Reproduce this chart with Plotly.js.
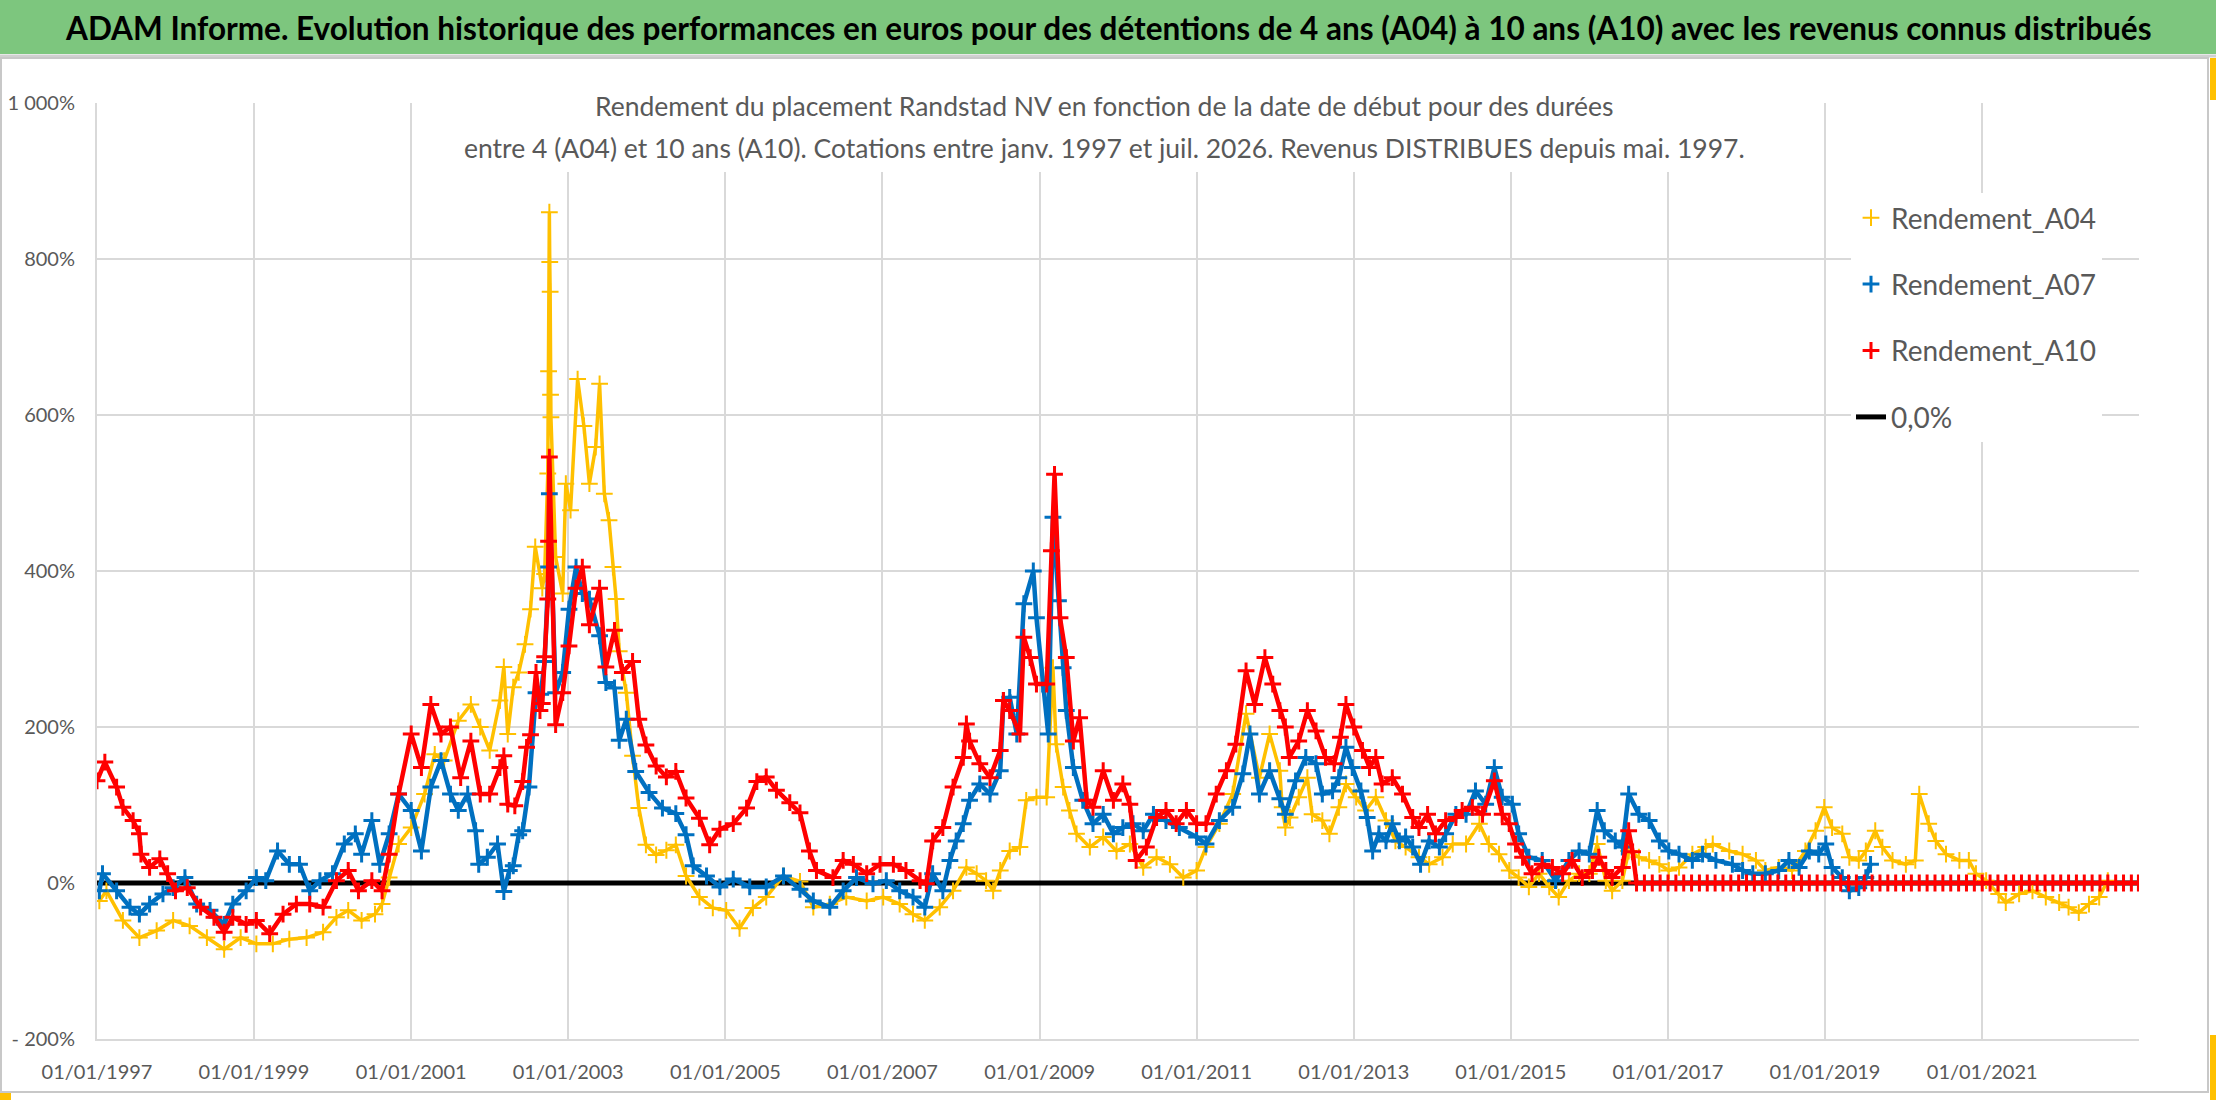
<!DOCTYPE html>
<html>
<head>
<meta charset="utf-8">
<script src="https://cdn.plot.ly/plotly-3.0.1.min.js"></script>
<style>
  html, body { margin: 0; padding: 0; background: #ffffff; }
  #chart { width: 2216px; height: 1102px; }
</style>
</head>
<body>
<div id="chart"></div>
<script>
// values, x as decimal years, y in %
var a04Years = [1997.03,1997.12,1997.33,1997.54,1997.76,1997.97,1998.18,1998.4,1998.62,1998.83,1999.03,1999.24,1999.45,1999.67,1999.88,
  2000.05,2000.2,2000.37,2000.54,2000.63,2000.72,2000.84,2001.0,2001.17,2001.3,2001.42,2001.6,2001.76,2001.88,2002.0,2002.13,2002.18,2002.23,
  2002.3,2002.37,2002.45,2002.52,2002.58,2002.67,2002.7,2002.74,2002.75,2002.76,2002.765,2002.77,2002.775,2002.78,2002.84,2002.93,2002.97,
  2003.03,2003.12,2003.2,2003.27,2003.35,2003.4,2003.46,2003.52,2003.57,2003.61,2003.65,2003.74,2003.82,2003.9,2003.99,2004.12,2004.25,
  2004.37,2004.5,2004.67,2004.84,2005.01,2005.18,2005.35,2005.52,2005.74,2005.95,2006.12,2006.33,2006.54,2006.8,2007.01,2007.22,2007.39,
  2007.54,2007.73,2007.9,2008.07,2008.2,2008.32,2008.41,2008.5,2008.62,2008.75,2008.83,2008.96,2009.09,2009.17,2009.21,2009.3,2009.38,
  2009.47,2009.64,2009.81,2009.98,2010.15,2010.32,2010.49,2010.66,2010.83,2011.0,2011.12,2011.29,2011.46,2011.63,2011.8,2011.93,2012.06,
  2012.09,2012.13,2012.19,2012.3,2012.41,2012.47,2012.6,2012.69,2012.81,2012.9,2013.03,2013.15,2013.28,2013.41,2013.53,2013.66,2013.83,
  2013.96,2014.13,2014.26,2014.43,2014.6,2014.72,2014.85,2014.98,2015.1,2015.23,2015.36,2015.49,2015.61,2015.74,2015.87,2016.0,2016.1,
  2016.21,2016.29,2016.42,2016.5,2016.63,2016.76,2016.89,2017.01,2017.14,2017.31,2017.48,2017.57,2017.78,2017.95,2018.12,2018.24,2018.41,
  2018.58,2018.75,2018.88,2018.99,2019.09,2019.22,2019.31,2019.43,2019.52,2019.64,2019.73,2019.86,2020.03,2020.15,2020.2,2020.32,2020.41,
  2020.54,2020.71,2020.83,2020.92,2021.05,2021.21,2021.3,2021.47,2021.64,2021.81,2021.98,2022.1,2022.23,2022.36,2022.49,2022.6];
var a04Values = [-23,-10,-48,-70,-61,-48,-55,-70,-85,-70,-78,-78,-72,-70,-63,
  -44,-35,-48,-40,-27,7,50,71,114,165,157,208,229,200,170,234,277,191,
  251,270,306,351,431,378,396,525,656,860,796,758,626,597,418,371,512,
  478,646,586,512,559,640,499,465,405,364,297,244,163,96,49,36,42,
  49,9,-18,-32,-35,-58,-32,-18,9,2,-31,-27,-18,-23,-18,-27,-40,
  -48,-31,-10,20,12,3,-10,16,41,46,106,110,110,276,178,123,93,
  63,46,59,41,50,20,33,24,7,16,46,76,114,217,135,191,144,
  97,71,84,110,135,88,80,63,97,127,110,93,110,80,54,46,33,
  24,33,50,50,76,50,37,16,7,-5,12,-5,-18,3,12,12,50,
  3,-10,3,41,33,29,24,16,20,37,46,50,41,37,29,16,20,
  16,41,67,97,71,63,33,29,41,67,46,29,24,29,114,76,54,
  37,29,29,12,3,-14,-25,-14,-10,-18,-25,-31,-38,-27,-18,3];

var a07Years = [1997.03,1997.07,1997.25,1997.42,1997.54,1997.67,1997.84,1997.97,1998.12,1998.27,1998.44,1998.62,1998.73,1998.9,1999.03,
  1999.15,1999.3,1999.45,1999.58,1999.71,1999.84,2000.0,2000.15,2000.29,2000.37,2000.5,2000.6,2000.72,2000.84,2001.0,2001.13,2001.25,
  2001.38,2001.5,2001.6,2001.72,2001.82,2001.86,2001.97,2002.1,2002.18,2002.25,2002.3,2002.37,2002.42,2002.5,2002.59,2002.65,2002.7,
  2002.75,2002.76,2002.84,2002.93,2003.01,2003.1,2003.18,2003.27,2003.4,2003.48,2003.59,2003.65,2003.74,2003.86,2004.03,2004.2,2004.37,
  2004.5,2004.59,2004.76,2004.93,2005.1,2005.31,2005.52,2005.74,2005.95,2006.12,2006.33,2006.5,2006.67,2006.88,2007.05,2007.22,2007.39,
  2007.54,2007.64,2007.77,2007.86,2007.94,2008.03,2008.11,2008.24,2008.37,2008.5,2008.54,2008.62,2008.71,2008.8,2008.92,2008.96,2009.04,
  2009.11,2009.17,2009.24,2009.3,2009.34,2009.43,2009.55,2009.68,2009.81,2009.94,2010.06,2010.19,2010.32,2010.45,2010.61,2010.78,2011.0,
  2011.12,2011.29,2011.46,2011.59,2011.68,2011.8,2011.93,2012.06,2012.13,2012.26,2012.39,2012.52,2012.6,2012.73,2012.81,2012.9,2012.98,
  2013.09,2013.17,2013.24,2013.32,2013.41,2013.49,2013.58,2013.66,2013.75,2013.85,2013.96,2014.09,2014.17,2014.3,2014.43,2014.55,2014.68,
  2014.79,2014.89,2015.02,2015.1,2015.23,2015.4,2015.57,2015.74,2015.87,2016.0,2016.1,2016.19,2016.33,2016.42,2016.5,2016.63,2016.76,
  2016.89,2017.01,2017.14,2017.31,2017.44,2017.61,2017.82,2017.95,2018.08,2018.24,2018.41,2018.54,2018.67,2018.8,2018.92,2019.01,2019.09,
  2019.22,2019.31,2019.43,2019.52,2019.58];
var a07Values = [-10,12,-10,-31,-40,-27,-14,-6,7,-27,-35,-53,-27,-10,7,
  3,41,24,24,-10,3,12,50,63,37,80,24,63,114,93,41,123,
  157,114,93,114,67,24,33,50,-11,16,22,62,67,123,244,242,284,
  405,499,244,270,351,405,371,364,317,257,250,183,210,143,116,96,89,
  62,22,9,-5,5,-5,-5,9,-8,-23,-31,-10,7,-1,3,-10,-18,
  -31,12,-10,29,54,76,106,127,114,144,234,238,191,358,400,340,255,
  191,469,362,276,221,148,106,76,88,63,71,76,67,88,80,71,59,
  50,80,97,140,191,114,144,108,88,131,161,153,114,118,135,174,148,
  118,84,41,63,54,76,54,59,46,24,54,46,63,88,88,118,101,
  148,110,101,63,33,29,3,29,41,37,93,67,54,46,114,88,80,
  54,41,37,29,37,29,24,16,12,12,16,29,20,41,37,50,20,
  7,-10,-6,7,24];

var a10Years = [1997.0,1997.1,1997.25,1997.33,1997.46,1997.54,1997.56,1997.67,1997.8,1997.9,1998.0,1998.15,1998.32,1998.49,1998.62,
  1998.73,1998.9,1999.03,1999.2,1999.37,1999.54,1999.71,1999.88,2000.05,2000.2,2000.33,2000.5,2000.63,2000.72,2000.84,2001.0,2001.13,
  2001.25,2001.38,2001.5,2001.63,2001.76,2001.88,2002.0,2002.13,2002.18,2002.23,2002.32,2002.42,2002.47,2002.52,2002.59,2002.64,2002.67,
  2002.7,2002.74,2002.75,2002.76,2002.84,2002.93,2003.01,2003.1,2003.18,2003.27,2003.4,2003.48,2003.59,2003.69,2003.82,2003.9,2003.99,
  2004.12,2004.25,2004.37,2004.5,2004.67,2004.8,2004.93,2005.1,2005.27,2005.4,2005.52,2005.65,2005.82,2005.95,2006.07,2006.16,2006.37,
  2006.5,2006.63,2006.8,2006.97,2007.14,2007.3,2007.48,2007.56,2007.64,2007.77,2007.9,2008.03,2008.07,2008.11,2008.24,2008.37,2008.5,
  2008.54,2008.62,2008.75,2008.8,2008.88,2008.96,2009.09,2009.15,2009.19,2009.26,2009.34,2009.43,2009.51,2009.6,2009.68,2009.81,2009.94,
  2010.06,2010.15,2010.23,2010.36,2010.49,2010.61,2010.74,2010.87,2011.0,2011.12,2011.25,2011.38,2011.5,2011.63,2011.74,2011.87,2011.97,
  2012.06,2012.13,2012.18,2012.3,2012.41,2012.52,2012.64,2012.75,2012.83,2012.9,2013.0,2013.11,2013.2,2013.28,2013.36,2013.49,2013.62,
  2013.75,2013.83,2013.94,2014.04,2014.17,2014.3,2014.38,2014.51,2014.64,2014.79,2014.89,2014.98,2015.06,2015.15,2015.27,2015.4,2015.53,
  2015.66,2015.78,2015.91,2016.04,2016.12,2016.21,2016.29,2016.42,2016.5,2016.55,
  2016.6,2016.7,2016.8,2016.9,2017.0,2017.1,2017.2,2017.3,2017.4,2017.5,2017.6,2017.7,2017.8,2017.9,2018.0,2018.1,2018.2,2018.3,
  2018.4,2018.5,2018.6,2018.7,2018.8,2018.9,2019.0,2019.1,2019.2,2019.3,2019.4,2019.5,2019.6,2019.7,2019.8,2019.9,2020.0,2020.1,
  2020.2,2020.3,2020.4,2020.5,2020.6,2020.7,2020.8,2020.9,2021.0,2021.1,2021.2,2021.3,2021.4,2021.5,2021.6,2021.7,2021.8,2021.9,
  2022.0,2022.1,2022.2,2022.3,2022.4,2022.5,2022.6,2022.7,2022.8,2022.9,2022.99];
var a10Values = [131,155,123,97,80,63,37,20,31,12,-10,-6,-31,-44,-63,
  -44,-53,-48,-65,-40,-27,-27,-31,3,16,-10,3,-10,37,114,191,148,
  229,191,200,135,182,114,114,148,163,101,99,130,174,190,270,221,230,
  290,364,438,546,203,244,304,378,405,331,378,277,324,270,284,210,177,
  150,136,143,109,83,49,69,76,96,130,136,119,103,90,41,16,7,
  29,24,12,24,24,16,3,-1,54,71,123,161,204,182,153,135,170,
  234,221,191,315,289,255,255,426,524,340,289,182,212,106,97,144,106,
  127,101,29,46,84,93,76,93,76,76,114,144,178,272,229,289,255,
  221,200,161,182,221,195,161,153,187,229,200,170,148,161,127,135,114,
  84,71,88,63,80,84,93,97,88,131,88,76,50,33,12,24,20,
  12,29,7,16,33,16,7,20,67,40,
  0,0,0,0,0,0,0,0,0,0,0,0,0,0,0,0,0,0,
  0,0,0,0,0,0,0,0,0,0,0,0,0,0,0,0,0,0,
  0,0,0,0,0,0,0,0,0,0,0,0,0,0,0,0,0,0,
  0,0,0,0,0,0,0,0,0,0,0];

var zeroDates = ['1997-01-01', '2022-12-31'];
var zeroValues = [0, 0];

var seriesNames = ['Rendement_A04', 'Rendement_A07', 'Rendement_A10', '0,0%'];
var yTickVals = [-200, 0, 200, 400, 600, 800, 1000];
var yTickText = ['- 200%', '0%', '200%', '400%', '600%', '800%', '1 000%'];

var titleText = 'ADAM Informe. Evolution historique des performances en euros pour des détentions de 4 ans (A04) à 10 ans (A10) avec les revenus connus distribués';
var subLine1 = 'Rendement du placement Randstad NV en fonction de la date de début pour des durées';
var subLine2 = 'entre 4 (A04) et 10 ans (A10). Cotations entre janv. 1997 et juil. 2026. Revenus DISTRIBUES depuis mai. 1997.';

// decimal year -> date string for the date axis
function toDate(y) {
  var yr = Math.floor(y);
  var start = Date.UTC(yr, 0, 1), end = Date.UTC(yr + 1, 0, 1);
  return new Date(start + (y - yr) * (end - start)).toISOString().slice(0, 19).replace('T', ' ');
}

// plot area in pixels, used to place paper-referenced items
var W = 2216, H = 1102;
var PL = 97, PR = 2139, PT = 103, PB = 1039;
function px(x) { return (x - PL) / (PR - PL); }
function py(y) { return (PB - y) / (PB - PT); }

var FONT = 'Lato, "Open Sans", sans-serif';
var GREY = '#595959';

function seriesTraces(years, vals, name, col, lw, ms, mw, rank) {
  var xs = years.map(toDate);
  var line = {
    x: xs, y: vals, type: 'scatter', mode: 'lines',
    line: {color: col, width: lw}, showlegend: false, hoverinfo: 'skip'
  };
  var pts = {
    x: xs, y: vals, type: 'scatter', mode: 'markers', name: name,
    legendgroup: name, legendrank: rank,
    marker: {symbol: 'cross-thin', size: ms, color: col, line: {color: col, width: mw}}
  };
  return [line, pts];
}

var data = [];
data.push({
  x: zeroDates, y: zeroValues, type: 'scatter', mode: 'lines', name: seriesNames[3],
  legendgroup: 'zero', legendrank: 4, line: {color: '#000000', width: 5}
});
seriesTraces(a04Years, a04Values, seriesNames[0], '#ffc000', 3.5, 12, 2, 1).forEach(t => data.push(t));
seriesTraces(a07Years, a07Values, seriesNames[1], '#0070c0', 4.5, 12, 3, 2).forEach(t => data.push(t));
seriesTraces(a10Years, a10Values, seriesNames[2], '#ff0000', 4.5, 12, 3, 3).forEach(t => data.push(t));

var shapes = [
  // green banner
  {type: 'rect', xref: 'paper', yref: 'paper', x0: px(0), x1: px(W), y0: py(54), y1: py(0),
   fillcolor: '#7dc67e', line: {width: 0}, layer: 'below'},
  {type: 'line', xref: 'paper', yref: 'paper', x0: px(0), x1: px(W), y0: py(56), y1: py(56),
   line: {color: '#d0d0d0', width: 3}},
  // chart border
  {type: 'rect', xref: 'paper', yref: 'paper', x0: px(1), x1: px(2208), y0: py(1092), y1: py(58),
   line: {color: '#c8c8c8', width: 2}},
  // white box behind the subtitle
  {type: 'rect', xref: 'paper', yref: 'paper', x0: px(450), x1: px(1766), y0: py(172), y1: py(95),
   fillcolor: '#ffffff', line: {width: 0}, layer: 'above'},
  // selection handles
  {type: 'rect', xref: 'paper', yref: 'paper', x0: px(0), x1: px(11), y0: py(1100), y1: py(1093),
   fillcolor: '#ffc000', line: {width: 0}},
  {type: 'rect', xref: 'paper', yref: 'paper', x0: px(2210), x1: px(W), y0: py(1100), y1: py(1035),
   fillcolor: '#ffc000', line: {width: 0}},
  {type: 'rect', xref: 'paper', yref: 'paper', x0: px(2210), x1: px(W), y0: py(100), y1: py(58),
   fillcolor: '#ffc000', line: {width: 0}}
];

var annotations = [
  {text: '<b>' + titleText + '</b>', xref: 'paper', yref: 'paper', x: px(1108), y: py(28),
   xanchor: 'center', yanchor: 'middle', showarrow: false, font: {family: FONT, size: 31.5, color: '#000000'}},
  {text: subLine1, xref: 'paper', yref: 'paper', x: px(1104), y: py(106),
   xanchor: 'center', yanchor: 'middle', showarrow: false, font: {family: FONT, size: 26.5, color: GREY}},
  {text: subLine2, xref: 'paper', yref: 'paper', x: px(1104), y: py(148),
   xanchor: 'center', yanchor: 'middle', showarrow: false, font: {family: FONT, size: 26.5, color: GREY}}
];

var layout = {
  width: W, height: H,
  margin: {l: PL, r: W - PR, t: PT, b: H - PB, pad: 0},
  paper_bgcolor: '#ffffff', plot_bgcolor: '#ffffff',
  font: {family: FONT, color: GREY},
  showlegend: true,
  legend: {
    x: px(1851), y: py(193), xanchor: 'left', yanchor: 'top',
    bgcolor: '#ffffff', borderwidth: 0, traceorder: 'grouped', tracegroupgap: 27,
    font: {family: FONT, size: 28, color: GREY}
  },
  xaxis: {
    type: 'date', range: ['1997-01-01', '2022-12-31'],
    tick0: '1997-01-01', dtick: 'M24', tickformat: '%d/%m/%Y',
    showgrid: true, gridcolor: '#d9d9d9', gridwidth: 2,
    showline: true, linecolor: '#d9d9d9', linewidth: 2,
    ticks: '', ticklabelstandoff: 14,
    tickfont: {family: FONT, size: 20, color: GREY}, zeroline: false
  },
  yaxis: {
    range: [-200, 1000], tickvals: yTickVals, ticktext: yTickText,
    showgrid: true, gridcolor: '#d9d9d9', gridwidth: 2,
    showline: true, linecolor: '#d9d9d9', linewidth: 2,
    ticks: '', ticklabelstandoff: 16,
    tickfont: {family: FONT, size: 20, color: GREY}, zeroline: false
  },
  shapes: shapes,
  annotations: annotations
};

Plotly.newPlot('chart', data, layout, {displayModeBar: false, staticPlot: true});
</script>
</body>
</html>
